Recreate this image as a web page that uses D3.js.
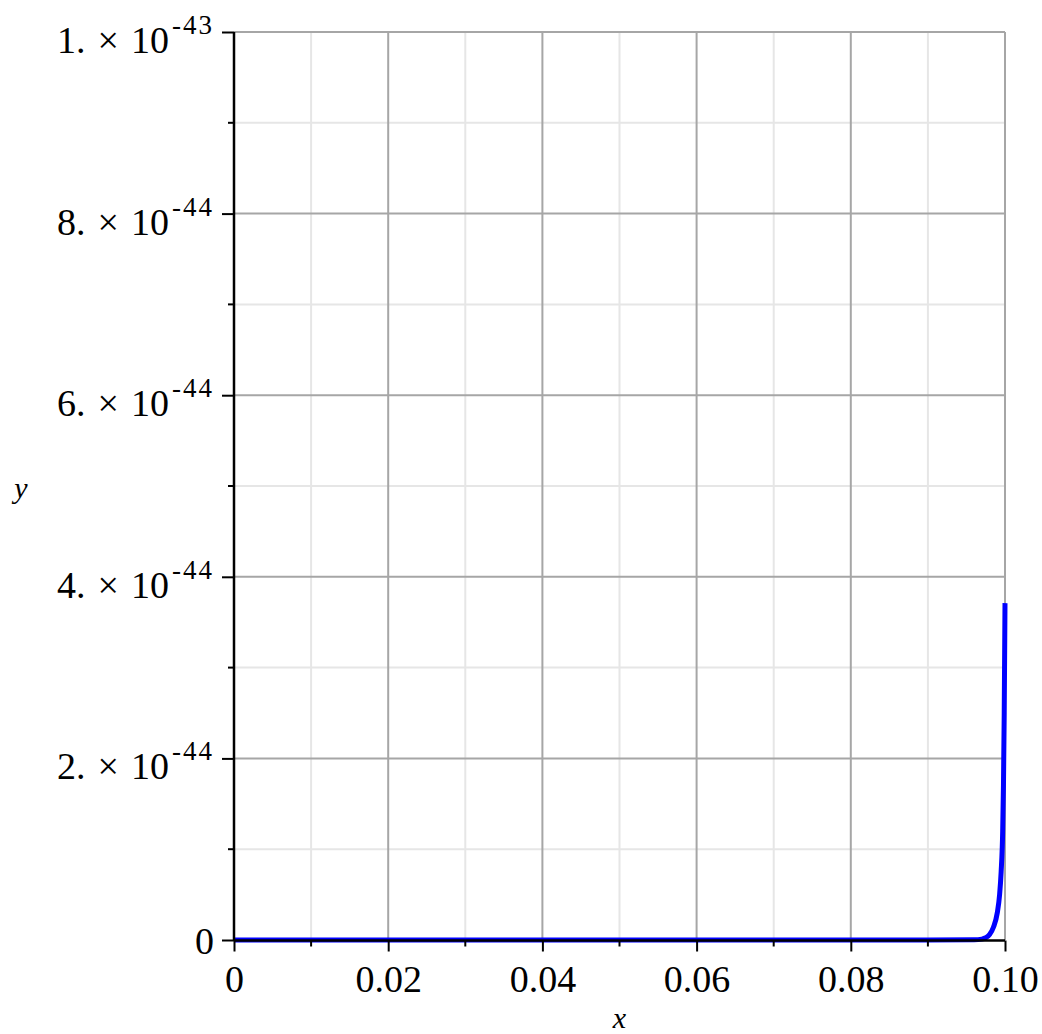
<!DOCTYPE html>
<html lang="en">
<head>
  <meta charset="UTF-8">
  <title>y vs x</title>
  <script src="https://d3js.org/d3.v7.min.js"></script>
  <style>
    body { margin: 0; background: #fff; }
    text { font-family: "Liberation Serif", "Times New Roman", serif; fill: #000; }
  </style>
</head>
<body>
  <svg id="plot"></svg>

  <script>
    // curve samples (y in absolute units)
    const xValues = [0, 0.05, 0.09, 0.096, 0.097, 0.0975, 0.098, 0.0985, 0.099, 0.0993, 0.0995, 0.0997, 0.0998, 0.0999, 0.1];
    const yValues = [0, 0, 0, 0.002e-44, 0.01e-44, 0.025e-44, 0.06e-44, 0.14e-44, 0.3e-44, 0.5e-44, 0.75e-44, 1.2e-44, 1.7e-44, 2.5e-44, 3.71e-44];

    const xMajorTicks = [0, 0.02, 0.04, 0.06, 0.08, 0.10];
    const xTickLabels = ["0", "0.02", "0.04", "0.06", "0.08", "0.10"];
    const xMinorTicks = [0.01, 0.03, 0.05, 0.07, 0.09];

    const yMajorTicks = [0, 2e-44, 4e-44, 6e-44, 8e-44, 1e-43];
    const yTickMantissa = ["0", "2.", "4.", "6.", "8.", "1."];
    const yTickExponent = ["", "-44", "-44", "-44", "-44", "-43"];
    const yMinorTicks = [1e-44, 3e-44, 5e-44, 7e-44, 9e-44];

    const width = 1042, height = 1034;
    const plotLeft = 234, plotRight = 1005, plotTop = 32, plotBottom = 940;

    const svg = d3.select("#plot").attr("width", width).attr("height", height);

    const x = d3.scaleLinear().domain([0, 0.1]).range([plotLeft, plotRight]);
    const y = d3.scaleLinear().domain([0, 1e-43]).range([plotBottom, plotTop]);

    // grid
    const grid = svg.append("g");
    grid.selectAll(".vminor").data(xMinorTicks).enter().append("line")
      .attr("x1", d => x(d)).attr("x2", d => x(d)).attr("y1", plotTop).attr("y2", plotBottom)
      .attr("stroke", "#e6e6e6").attr("stroke-width", 2);
    grid.selectAll(".hminor").data(yMinorTicks).enter().append("line")
      .attr("x1", plotLeft).attr("x2", plotRight).attr("y1", d => y(d)).attr("y2", d => y(d))
      .attr("stroke", "#e6e6e6").attr("stroke-width", 2);
    grid.selectAll(".vmajor").data(xMajorTicks.slice(1)).enter().append("line")
      .attr("x1", d => x(d)).attr("x2", d => x(d)).attr("y1", plotTop).attr("y2", plotBottom)
      .attr("stroke", "#a6a6a6").attr("stroke-width", 2);
    grid.selectAll(".hmajor").data(yMajorTicks.slice(1)).enter().append("line")
      .attr("x1", plotLeft).attr("x2", plotRight).attr("y1", d => y(d)).attr("y2", d => y(d))
      .attr("stroke", "#a6a6a6").attr("stroke-width", 2);

    // curve
    const points = xValues.map((v, i) => [v, yValues[i]]);
    svg.append("path")
      .datum(points)
      .attr("fill", "none")
      .attr("stroke", "#0000ff")
      .attr("stroke-width", 5)
      .attr("d", d3.line().x(d => x(d[0])).y(d => y(d[1])).curve(d3.curveMonotoneX));

    // axes
    const xAxis = svg.append("g").attr("transform", `translate(0,${plotBottom + 0.5})`);
    xAxis.call(d3.axisBottom(x).tickValues(xMajorTicks).tickSize(11).tickFormat((d, i) => xTickLabels[i]).tickPadding(14));
    xAxis.append("g").selectAll("line").data(xMinorTicks).enter().append("line")
      .attr("x1", d => x(d)).attr("x2", d => x(d)).attr("y1", 0).attr("y2", 6)
      .attr("stroke", "#000").attr("stroke-width", 2);

    const yAxis = svg.append("g").attr("transform", `translate(${plotLeft},0)`);
    yAxis.call(d3.axisLeft(y).tickValues(yMajorTicks).tickSize(12).tickFormat(""));
    yAxis.append("g").selectAll("line").data(yMinorTicks).enter().append("line")
      .attr("x1", -6).attr("x2", 0).attr("y1", d => y(d)).attr("y2", d => y(d))
      .attr("stroke", "#000").attr("stroke-width", 2);

    [xAxis, yAxis].forEach(a => {
      a.select(".domain").attr("stroke", "#000").attr("stroke-width", 2.5);
      a.selectAll(".tick line").attr("stroke", "#000").attr("stroke-width", 2);
    });
    xAxis.select(".domain").attr("d", `M${plotLeft},0H${plotRight}`);
    yAxis.select(".domain").attr("d", `M0,${plotTop}V${plotBottom + 1}`);

    xAxis.selectAll(".tick text")
      .style("font-family", "'Liberation Serif', serif")
      .style("font-size", "38px")
      .attr("fill", "#000");

    // y tick labels: mantissa × 10^exponent
    const yLabels = svg.append("g").selectAll("text").data(yMajorTicks).enter().append("text")
      .attr("x", 214)
      .attr("y", (d, i) => i === 0 ? y(d) + 14 : y(d) + 21)
      .attr("text-anchor", "end")
      .style("font-size", "38px");
    yLabels.append("tspan").text((d, i) => yTickMantissa[i]);
    yLabels.filter((d, i) => yTickExponent[i] !== "").each(function(d, i) {
      const t = d3.select(this);
      const k = yMajorTicks.indexOf(d);
      t.append("tspan").attr("dx", 12).text("\u00d7");
      t.append("tspan").attr("dx", 12).text("10");
      t.append("tspan")
        .attr("dx", 3)
        .attr("dy", -19)
        .style("font-size", "27px")
        .style("letter-spacing", "2px")
        .text(yTickExponent[k]);
    });

    // axis titles
    svg.append("text")
      .attr("x", (plotLeft + plotRight) / 2)
      .attr("y", 1028)
      .attr("text-anchor", "middle")
      .style("font-size", "30px")
      .style("font-style", "italic")
      .text("x");

    svg.append("text")
      .attr("x", 21)
      .attr("y", 498)
      .attr("text-anchor", "middle")
      .style("font-size", "30px")
      .style("font-style", "italic")
      .text("y");
  </script>
</body>
</html>
